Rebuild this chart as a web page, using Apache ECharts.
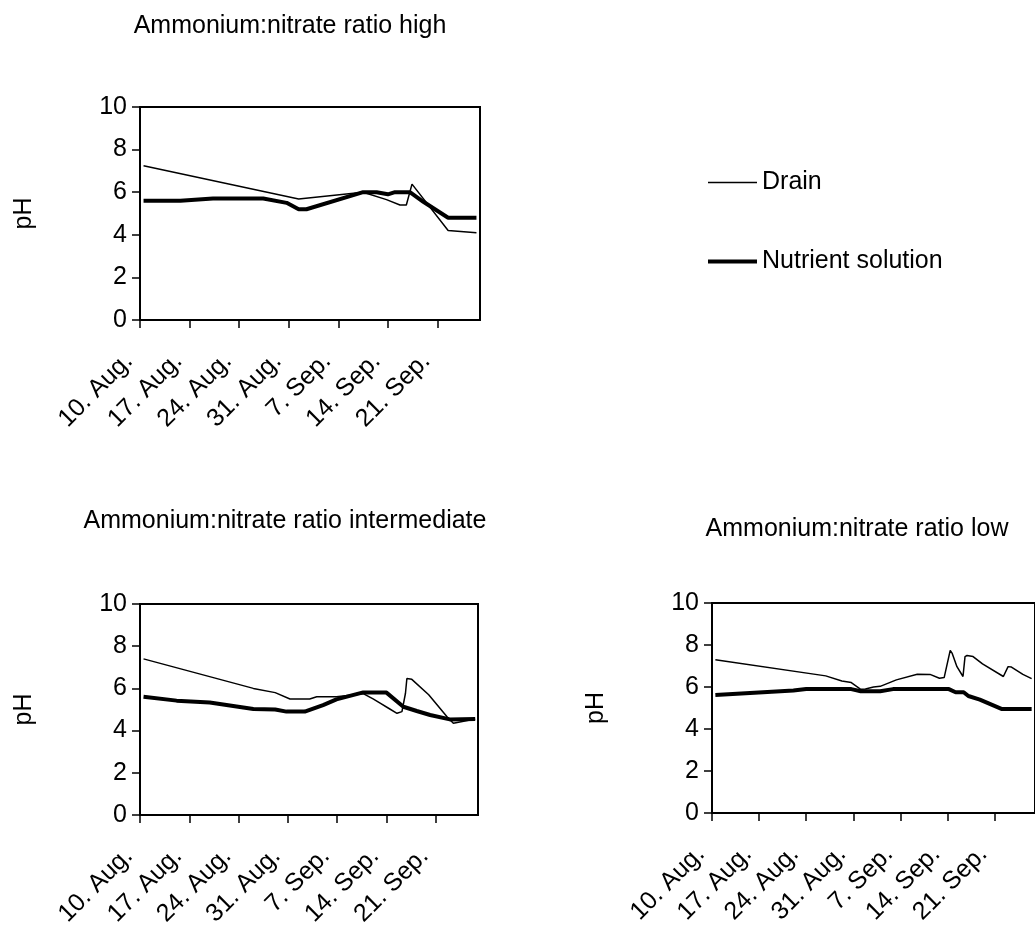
<!DOCTYPE html>
<html>
<head>
<meta charset="utf-8">
<script src="https://cdn.jsdelivr.net/npm/echarts@6/dist/echarts.min.js"></script>
<style>
  html, body { margin: 0; padding: 0; background: #fff; }
  #main { width: 1035px; height: 932px; }
</style>
</head>
<body>
<div id="main"></div>
<script>
// days counted from 10 Aug
const tickDays = [0, 7, 14, 21, 28, 35, 42]
const tickLabels = ['10. Aug.', '17. Aug.', '24. Aug.', '31. Aug.', '7. Sep.', '14. Sep.', '21. Sep.']
const yTicks = [0, 2, 4, 6, 8, 10]

// ratio high
const highDrainDays = [0.5, 22.4, 31.5, 34.8, 36.7, 37.6, 38.4, 43.5, 47.5]
const highDrainPH = [7.24, 5.68, 6.0, 5.65, 5.4, 5.4, 6.38, 4.2, 4.1]
const highNutrDays = [0.5, 5.7, 10.3, 17.4, 20.7, 22.4, 23.5, 31.5, 33.4, 35.0, 36.0, 38.1, 40.0, 43.5, 47.5]
const highNutrPH = [5.6, 5.6, 5.7, 5.7, 5.5, 5.2, 5.2, 6.0, 6.0, 5.9, 6.0, 6.0, 5.55, 4.8, 4.8]

// ratio intermediate
const midDrainDays = [0.5, 16.1, 19.2, 21.3, 24.1, 25.1, 27.9, 31.7, 33.1, 34.1, 35.3, 36.5, 37.2, 37.7, 37.9, 38.6, 41.0, 43.6, 44.5, 47.6]
const midDrainPH = [7.4, 6.0, 5.8, 5.5, 5.5, 5.6, 5.6, 5.75, 5.5, 5.3, 5.06, 4.82, 4.9, 5.77, 6.47, 6.43, 5.7, 4.66, 4.35, 4.55]
const midNutrDays = [0.5, 5.2, 9.9, 16.1, 19.2, 20.8, 23.4, 26.0, 27.9, 31.7, 35.0, 37.4, 39.3, 41.2, 44.0, 47.6]
const midNutrPH = [5.6, 5.42, 5.33, 5.02, 5.0, 4.9, 4.9, 5.21, 5.48, 5.81, 5.8, 5.13, 4.93, 4.74, 4.53, 4.55]

// ratio low
const lowDrainDays = [0.5, 16.9, 19.3, 20.7, 22.1, 22.8, 24.0, 25.0, 27.4, 30.5, 32.4, 33.8, 34.5, 35.4, 35.7, 36.4, 37.3, 37.6, 37.9, 38.8, 40.2, 43.3, 44.0, 44.5, 46.2, 47.5]
const lowDrainPH = [7.3, 6.53, 6.29, 6.21, 5.89, 5.9, 6.0, 6.03, 6.34, 6.61, 6.6, 6.42, 6.45, 7.74, 7.6, 6.97, 6.5, 7.45, 7.5, 7.45, 7.1, 6.5, 6.97, 6.95, 6.6, 6.4]
const lowNutrDays = [0.5, 12.1, 14.0, 20.7, 22.1, 25.0, 26.9, 35.2, 36.2, 37.4, 38.1, 39.8, 43.1, 46.2, 47.5]
const lowNutrPH = [5.62, 5.83, 5.9, 5.9, 5.8, 5.8, 5.9, 5.9, 5.75, 5.75, 5.57, 5.4, 4.95, 4.95, 4.95]

const FONT = "'Liberation Sans', Arial, sans-serif"
const pairs = (xs, ys) => xs.map((x, i) => [x, ys[i]])

const grids = [
  { left: 140, top: 107, width: 340, height: 213 },
  { left: 140, top: 604, width: 338, height: 211 },
  { left: 712, top: 603, width: 336, height: 210 }
]

const titles = [
  { text: 'Ammonium:nitrate ratio high', left: 290, top: 14 },
  { text: 'Ammonium:nitrate ratio intermediate', left: 285, top: 509 },
  { text: 'Ammonium:nitrate ratio low', left: 857, top: 517 }
]

const makeX = i => ({
  type: 'value', gridIndex: i, min: 0, max: 48,
  axisLine: { lineStyle: { color: '#000', width: 2 } },
  axisTick: { customValues: tickDays, length: 8, lineStyle: { color: '#000', width: 1.5 } },
  axisLabel: {
    customValues: tickDays,
    rotate: 45,
    margin: 26,
    padding: [0, 16, 0, 0],
    color: '#000', fontSize: 25, fontFamily: FONT,
    formatter: v => tickLabels[tickDays.indexOf(v)] || ''
  },
  splitLine: { show: false }
})

const makeY = i => ({
  type: 'value', gridIndex: i, min: 0, max: 10, interval: 2,
  name: 'pH', nameLocation: 'middle', nameGap: 103,
  nameTextStyle: { color: '#000', fontSize: 25, fontFamily: FONT },
  axisLine: { show: true, lineStyle: { color: '#000', width: 2 } },
  axisTick: { show: true, length: 8, lineStyle: { color: '#000', width: 1.5 } },
  axisLabel: {
    margin: 13, color: '#000', fontSize: 25, fontFamily: FONT,
    formatter: v => yTicks.includes(v) ? String(v) : ''
  },
  splitLine: { show: false }
})

const drain = (i, d) => ({
  name: 'Drain', type: 'line', xAxisIndex: i, yAxisIndex: i,
  data: d, symbol: 'none', lineStyle: { color: '#000', width: 1.5 }, itemStyle: { color: '#000' }
})
const nutr = (i, d) => ({
  name: 'Nutrient solution', type: 'line', xAxisIndex: i, yAxisIndex: i,
  data: d, symbol: 'none', lineStyle: { color: '#000', width: 4 }, itemStyle: { color: '#000' }
})

// one legend per row so each key line gets its own thickness
const legendRow = (name, top, thick) => ({
  left: 708, top: top, orient: 'vertical', padding: 0,
  itemWidth: 49, itemHeight: thick, icon: 'rect',
  selectedMode: false,
  data: [name],
  itemStyle: { color: '#000' },
  textStyle: { color: '#000', fontSize: 25, fontFamily: FONT }
})

const chart = echarts.init(document.getElementById('main'))
chart.setOption({
  backgroundColor: '#fff',
  animation: false,
  title: titles.map(t => ({
    text: t.text, left: t.left, top: t.top, textAlign: 'center', padding: 0,
    textStyle: { color: '#000', fontSize: 25, fontWeight: 'normal', fontFamily: FONT }
  })),
  legend: [
    legendRow('Drain', 170, 1.5),
    legendRow('Nutrient solution', 249, 4)
  ],
  grid: grids.map(g => Object.assign({ show: true, borderColor: '#000', borderWidth: 2 }, g)),
  xAxis: [0, 1, 2].map(makeX),
  yAxis: [0, 1, 2].map(makeY),
  series: [
    drain(0, pairs(highDrainDays, highDrainPH)),
    nutr(0, pairs(highNutrDays, highNutrPH)),
    drain(1, pairs(midDrainDays, midDrainPH)),
    nutr(1, pairs(midNutrDays, midNutrPH)),
    drain(2, pairs(lowDrainDays, lowDrainPH)),
    nutr(2, pairs(lowNutrDays, lowNutrPH))
  ]
})
</script>
</body>
</html>
